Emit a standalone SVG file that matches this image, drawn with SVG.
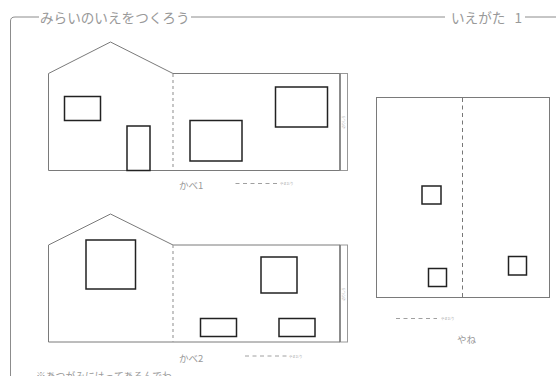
<svg xmlns="http://www.w3.org/2000/svg" width="556" height="376" viewBox="0 0 556 376">
<style>
text{font-family:"Noto Sans CJK JP","Noto Sans",sans-serif;fill:#999}
.frame{fill:none;stroke:#8c8c8c;stroke-width:1}
.line{fill:none;stroke:#7a7a7a;stroke-width:1}
.fold{fill:none;stroke:#a0a0a0;stroke-width:1.2;stroke-dasharray:3 3}
.rfold{fill:none;stroke:#777;stroke-width:1;stroke-dasharray:4 3.500}
.mfold{fill:none;stroke:#888;stroke-width:.8;stroke-dasharray:4 3.500}
.tab{fill:none;stroke:#999;stroke-width:1}
.tabl{fill:none;stroke:#777;stroke-width:1.500}
.win{fill:#fff;stroke:#222;stroke-width:1.500}
.t{font-size:13.6px}
.l{font-size:9.500px}
.s{font-size:3.300px;fill:#aaa}
</style>
<rect width="556" height="376" fill="#fff"/>
<g id="frame">
<path class="frame" d="M10.500 376V21Q10.500 17 15 17H39M191 17H445M525 17H556"/>
<text class="t" x="40" y="23">みらいのいえをつくろう</text>
<text class="t" x="451" y="23" xml:space="preserve" word-spacing="6">いえがた 1</text>
</g>
<g id="wall1">
<path class="line" d="M48.500 73.500L110.500 42 173 73.500H340M48.500 73.500V170.500H340"/>
<path class="fold" d="M173 74V170"/>
<rect class="tab" x="340" y="73.500" width="7.500" height="97"/>
<path class="tabl" d="M340 73.500V170.500"/>
<rect class="win" x="64.500" y="96.500" width="36" height="24"/>
<rect class="win" x="127" y="126" width="23" height="44.500"/>
<rect class="win" x="190" y="120.500" width="52" height="40.500"/>
<rect class="win" x="275.500" y="87" width="52" height="40"/>
<text class="s" transform="translate(345,122) rotate(-90)" text-anchor="middle">のりしろ</text>
<text class="l" x="179" y="188.500" word-spacing="1">かべ1</text>
<path class="mfold" d="M235.500 183.500H279"/>
<text class="s" x="280" y="185">やまおり</text>
</g>
<g id="wall2">
<path class="line" d="M48.500 245L110.500 214 173 245H340M48.500 245V342H340"/>
<path class="fold" d="M173 245V342"/>
<rect class="tab" x="340" y="245" width="7.500" height="97"/>
<path class="tabl" d="M340 245V342"/>
<rect class="win" x="86" y="240" width="49.500" height="49"/>
<rect class="win" x="261" y="257" width="36" height="36"/>
<rect class="win" x="200.500" y="318.500" width="36" height="18"/>
<rect class="win" x="279" y="318.500" width="36" height="18"/>
<text class="s" transform="translate(345,294) rotate(-90)" text-anchor="middle">のりしろ</text>
<text class="l" x="179" y="361.500">かべ2</text>
<path class="mfold" d="M245 356H289"/>
<text class="s" x="289" y="358">やまおり</text>
</g>
<g id="roof">
<rect class="line" x="376.500" y="97.500" width="173" height="200"/>
<path class="rfold" d="M462.500 98V297"/>
<rect class="win" x="422" y="186" width="19" height="18"/>
<rect class="win" x="428.500" y="268.500" width="18" height="18"/>
<rect class="win" x="508.500" y="256.500" width="18" height="18.500"/>
<path class="mfold" d="M396 318.500H437"/>
<text class="s" x="441" y="320">やまおり</text>
<text class="l" x="457" y="342.500">やね</text>
</g>
<g id="note">
<text class="l" x="36" y="379.500" style="font-size:9.800px">※あつがみにはってあるんでわ</text>
</g>
</svg>
